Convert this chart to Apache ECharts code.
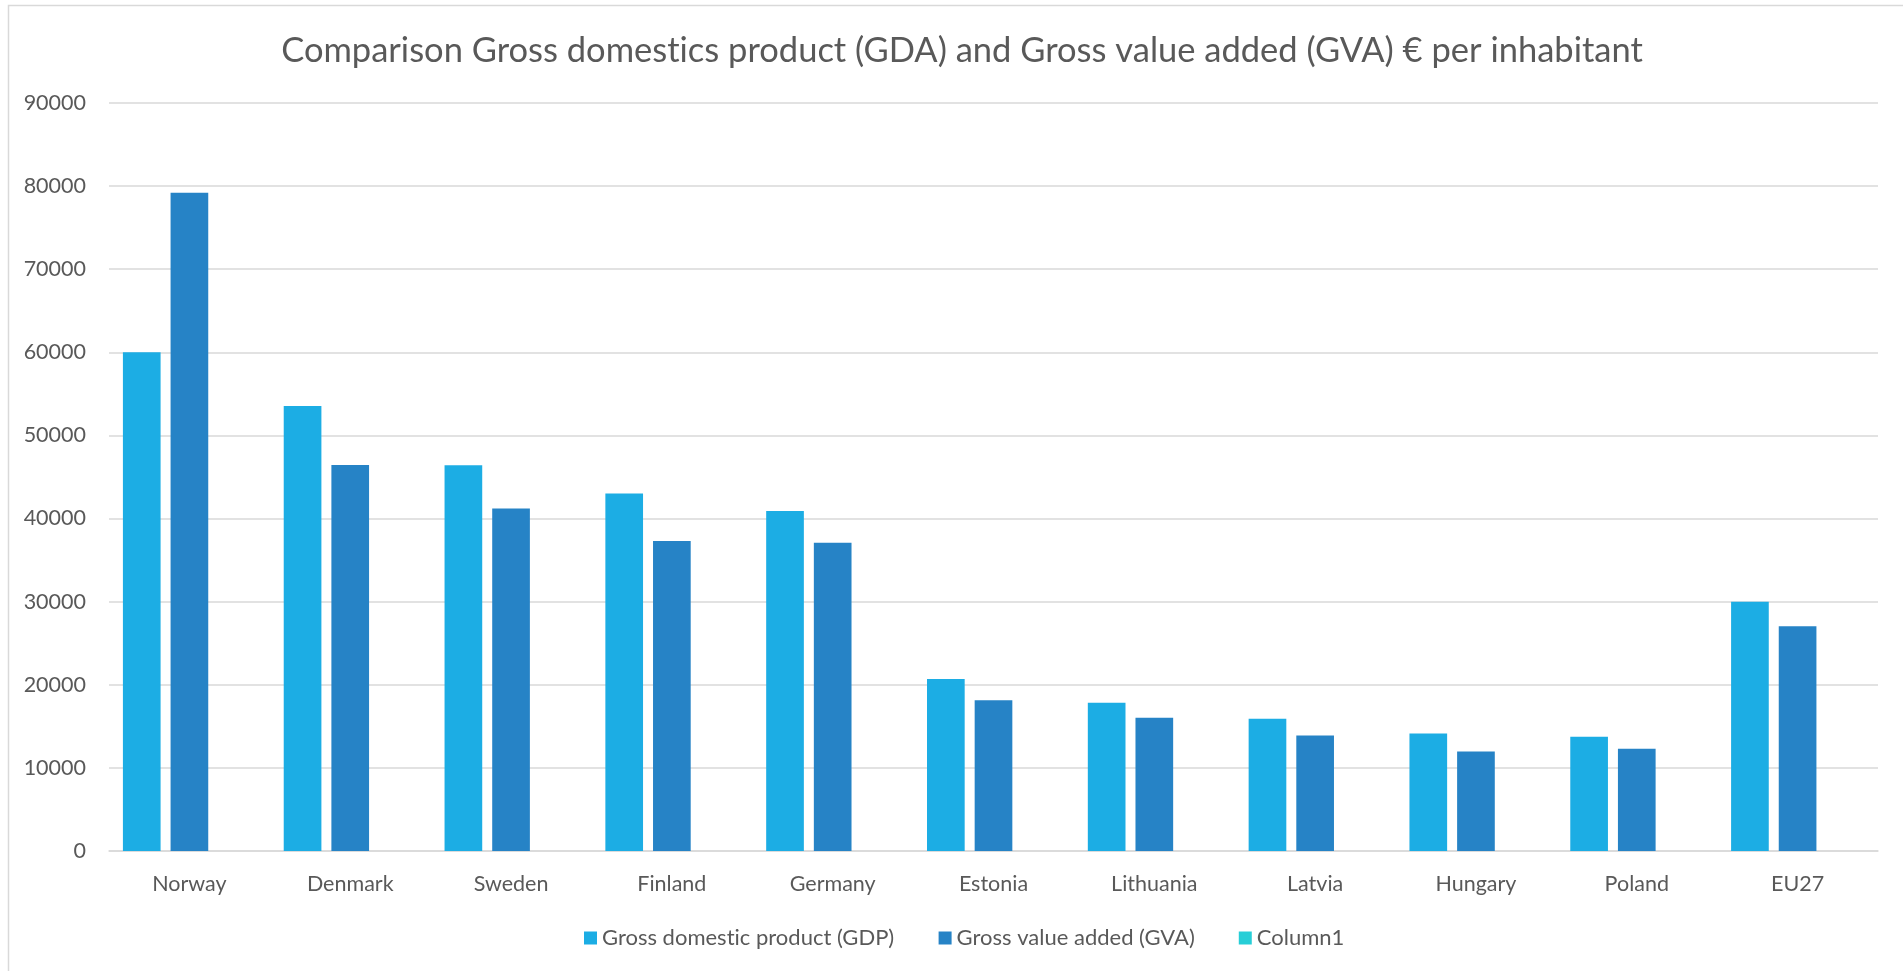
<!DOCTYPE html>
<html>
<head>
<meta charset="utf-8">
<script src="https://cdn.jsdelivr.net/npm/echarts@6/dist/echarts.min.js"></script>
<style>
html,body{margin:0;padding:0;background:#fff;}
#chart{width:1903px;height:971px;}
</style>
</head>
<body>
<div id="chart"></div>
<script>
const categories = ['Norway','Denmark','Sweden','Finland','Germany','Estonia','Lithuania','Latvia','Hungary','Poland','EU27'];
const gdpValues = [60000, 53530, 46400, 43000, 40900, 20700, 17850, 15900, 14150, 13750, 30000];
const gvaValues = [79200, 46450, 41200, 37300, 37100, 18150, 16030, 13900, 11980, 12300, 27050];
const column1Values = [null, null, null, null, null, null, null, null, null, null, null];
const seriesNames = ['Gross domestic product (GDP)', 'Gross value added (GVA)', 'Column1'];
const yTicks = {min: 0, max: 90000, interval: 10000};

// avoid font ligatures (e.g. "ti") so the text looks like the reference
(function () {
  const proto = CanvasRenderingContext2D.prototype;
  const orig = proto.fillText;
  proto.fillText = function () {
    try { this.textRendering = 'optimizeLegibility'; this.fontVariantLigatures = 'none'; } catch (e) {}
    try { if ('textRendering' in this) this.textRendering = 'optimizeSpeed'; } catch (e) {}
    return orig.apply(this, arguments);
  };
})();

const chart = echarts.init(document.getElementById('chart'), null, {renderer: 'canvas'});
const FONT = 'Lato';
const TXT = '#595959';
const GRIDC = '#d9d9d9';
chart.setOption({
  backgroundColor: '#ffffff',
  animation: false,
  color: ['#1CADE4', '#2683C6', '#27CED7'],
  title: {
    text: 'Comparison Gross domestics product (GDA) and Gross value added (GVA) € per inhabitant',
    left: 957, top: 28, textAlign: 'center',
    textStyle: {fontFamily: FONT, fontSize: 34.5, fontWeight: 'normal', color: TXT}
  },
  legend: {
    left: 579, top: 922,
    icon: 'rect', itemWidth: 13, itemHeight: 13, itemGap: 44,
    textStyle: {fontFamily: FONT, fontSize: 22, color: TXT},
    data: seriesNames
  },
  graphic: [{
    type: 'polyline', silent: true,
    shape: {points: [[8.5, 971], [8.5, 5.5], [1903, 5.5]]},
    style: {stroke: GRIDC, lineWidth: 1.5, fill: null}
  }],
  grid: {left: 109, right: 25, top: 103, bottom: 120, containLabel: false},
  xAxis: {
    type: 'category', data: categories,
    axisLine: {lineStyle: {color: GRIDC, width: 1.5}},
    axisTick: {show: false},
    axisLabel: {fontFamily: FONT, fontSize: 21.5, color: TXT, margin: 22}
  },
  yAxis: {
    type: 'value', min: yTicks.min, max: yTicks.max, interval: yTicks.interval,
    axisLine: {show: false}, axisTick: {show: false},
    splitLine: {lineStyle: {color: GRIDC, width: 1.5}},
    axisLabel: {fontFamily: FONT, fontSize: 21.5, color: TXT, margin: 23,
      formatter: function (v) { return String(v); }}
  },
  series: [
    {name: seriesNames[0], type: 'bar', data: gdpValues, barGap: '26.5%', barCategoryGap: '17.3%'},
    {name: seriesNames[1], type: 'bar', data: gvaValues, barGap: '26.5%', barCategoryGap: '17.3%'},
    {name: seriesNames[2], type: 'bar', data: column1Values, barGap: '26.5%', barCategoryGap: '17.3%'}
  ]
});
</script>
</body>
</html>
